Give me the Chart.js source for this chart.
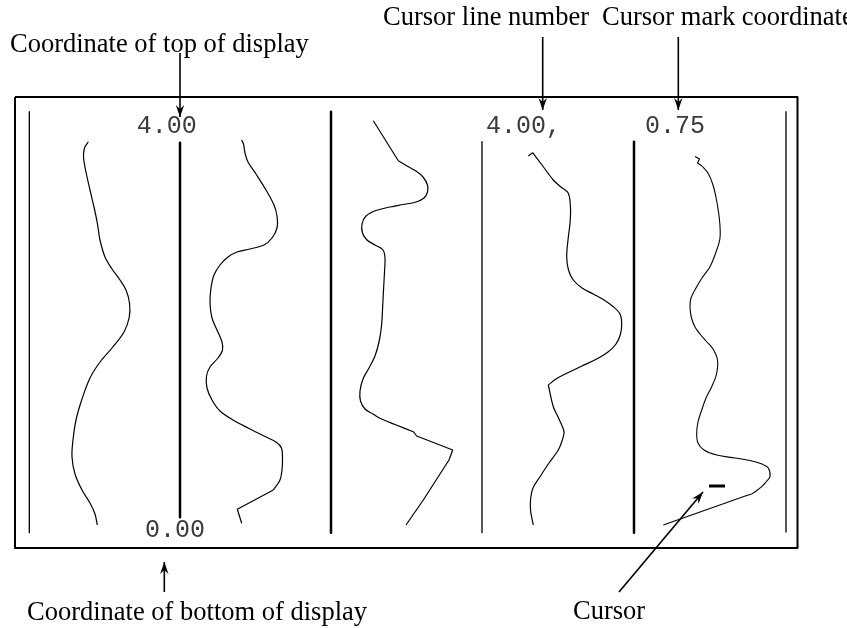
<!DOCTYPE html>
<html>
<head>
<meta charset="utf-8">
<script src="https://cdn.jsdelivr.net/npm/chart.js@4"></script>
<style>
  html, body { margin: 0; padding: 0; background: #fff; }
  canvas { display: block; }
</style>
</head>
<body>
<canvas id="display" width="847" height="628"></canvas>
<script>
// curve traces, [x, y] (y grows downward)
const trace1 = [[88.3,141.7],[84.5,148],[83.5,157],[86,172],[90,190],[94,207],[97.3,223],[100,240],[105,257],[112,269],[120,280],[126,290],[129.5,303],[129.3,317],[124,332],[112,348],[100,362],[90,378],[82,399],[76,420],[73,440],[72,457],[75,474],[82,490],[90,503],[95,514],[97.3,525]];
const trace2 = [[241.5,140],[243.5,144],[245,153],[248,162],[256,174],[266,190],[274,205],[277,216],[277,228],[272,238],[264,245],[250,249],[237,252],[228,257],[220,265],[214,275],[211,288],[210,303],[212,318],[217,330],[222,342],[222.5,350],[218,358],[210,367],[206.5,376],[207,388],[212,400],[220,411],[233,420],[248,428],[264,436],[276,442],[281.5,448],[282.5,458],[282,470],[280,480],[273.3,490]];
const trace2Tail = [[273.3,490],[237.3,509.3],[241.7,523.3]];
const trace3Head = [[373.3,120.7],[398.3,160.7]];
const trace3 = [[398.3,160.7],[407,166],[416,171],[423,177],[427.5,185],[427.5,192],[424,198],[416,202],[403,204.5],[390,207],[376,210.5],[366,216],[362,224],[362.5,233],[367,240],[375,245],[383,250],[385,258],[384.5,272],[383.5,290],[382.5,310],[381.5,326],[379,342],[375,356],[369,368],[363,379],[360,391],[360.5,401],[365,409],[373,414],[380,418.3],[395,424.5],[413.3,431.7]];
const trace3Tail = [[413.3,431.7],[416.7,436],[452.7,450],[449,460],[423.3,500],[406,525]];
const trace4Head = [[528.3,156],[532.7,152.7]];
const trace4 = [[532.7,152.7],[542,165],[553.3,180],[561,187],[568.3,193.3],[570.5,208],[570,223.3],[568,240],[566.7,256.7],[568.5,270],[573.3,280],[582,288],[593.3,294],[604,300],[613.3,306.7],[620,314],[621.7,323.3],[620.5,334],[616,344],[608,352],[596.7,359],[582,366],[566.7,373.3],[556,379],[548.3,385]];
const trace4Tail = [[548.3,385],[553.3,406.7],[559,419],[564,431.7],[562,441],[558.3,450],[549,463],[540,476.7],[533,488],[530.7,498],[530.5,510],[533.3,525]];
const trace5Head = [[695,156.5],[699.5,159],[697.5,163],[702,166]];
const trace5 = [[702,166],[708,173],[713,185],[716.5,200],[719.5,220],[720,238],[716,252],[710,266.7],[702,278],[696,288],[691,298],[690,307],[691.5,318],[695,327],[700,334],[706,341],[713,349],[717.5,360],[716.5,374],[711.7,386.7],[706,398],[701.7,410],[698,422],[696.7,433.3],[698,443],[704,450],[716.7,455],[735,458],[750,460.5],[762,464],[768.3,468],[770,476.7],[766,482],[761.7,486.7],[755.5,491.5],[751.7,494]];
const trace5Tail = [[751.7,494],[746.7,495.5],[663.3,525]];

// vertical rules: x, top, bottom, heavy?
const rules = [[29.3,111.7,532.7,false],[180,142.7,517.3,true],[331,111.7,532.7,true],[482,141.7,532.7,false],[634,141.7,532.7,true],[786,111.7,532,false]];
const frame = [[15,97],[797.5,97],[797.5,548],[15,548],[15,97]];
const cursorMark = [[709,486],[725,486]];

// readouts on the display
const topCoord = "4.00";
const bottomCoord = "0.00";
const cursorLine = "4.00,";
const cursorCoord = "0.75";

const serif = '26.5px "Liberation Serif", "Times New Roman", serif';
const mono = '25px "Liberation Mono", "Courier New", monospace';

const labels = [
    { text: "Coordinate of top of display", x: 10, y: 52, font: serif, color: "#000" },
    { text: "Cursor line number", x: 383, y: 25, font: serif, color: "#000" },
    { text: "Cursor mark coordinate", x: 602, y: 25, font: serif, color: "#000" },
    { text: "Coordinate of bottom of display", x: 27, y: 620, font: serif, color: "#000" },
    { text: "Cursor", x: 573, y: 619, font: serif, color: "#000" },
    { text: topCoord, x: 136.7, y: 132.5, font: mono, color: "#3a3a3a" },
    { text: cursorLine, x: 486, y: 132.5, font: mono, color: "#3a3a3a" },
    { text: cursorCoord, x: 645, y: 132.5, font: mono, color: "#3a3a3a" },
    { text: bottomCoord, x: 145, y: 536.5, font: mono, color: "#3a3a3a" },
];

// pointer arrows: from -> tip
const pointers = [
    [[180, 53], [180, 117]],
    [[542.7, 37], [542.7, 110]],
    [[678.3, 37], [678.3, 110]],
    [[164.3, 592], [164.3, 562]],
    [[619, 592], [703, 492]],
];

const pts = (arr) => arr.map(([x, y]) => ({ x, y }));

function line(arr, width, tension) {
    return {
        data: pts(arr),
        showLine: true,
        borderColor: "#000",
        borderWidth: width,
        tension: tension,
        pointRadius: 0,
        fill: false,
        borderCapStyle: "butt",
        borderJoinStyle: "round",
    };
}

const datasets = [
    line(frame, 2, 0),
    ...rules.map(([x, top, bottom, heavy]) => line([[x, top], [x, bottom]], heavy ? 2.5 : 1.3, 0)),
    line(trace1, 1.2, 0.35),
    line(trace2, 1.2, 0.35),
    line(trace2Tail, 1.2, 0),
    line(trace3Head, 1.2, 0),
    line(trace3, 1.2, 0.35),
    line(trace3Tail, 1.2, 0),
    line(trace4Head, 1.2, 0),
    line(trace4, 1.2, 0.35),
    line(trace4Tail, 1.2, 0.3),
    line(trace5Head, 1.1, 0),
    line(trace5, 1.1, 0.35),
    line(trace5Tail, 1.1, 0),
    line(cursorMark, 3, 0),
];

const annotate = {
    id: "annotate",
    afterDatasetsDraw(chart) {
        const { ctx } = chart;
        const sx = chart.scales.x, sy = chart.scales.y;
        ctx.save();
        ctx.strokeStyle = "#000";
        ctx.fillStyle = "#000";
        pointers.forEach(([from, to]) => {
            const x0 = sx.getPixelForValue(from[0]), y0 = sy.getPixelForValue(from[1]);
            const x1 = sx.getPixelForValue(to[0]), y1 = sy.getPixelForValue(to[1]);
            ctx.lineWidth = 1.6;
            ctx.beginPath();
            ctx.moveTo(x0, y0);
            ctx.lineTo(x1, y1);
            ctx.stroke();
            const a = Math.atan2(y1 - y0, x1 - x0);
            const len = 12, half = 4.2, notch = 8;
            ctx.beginPath();
            ctx.moveTo(x1, y1);
            ctx.lineTo(x1 - len * Math.cos(a) + half * Math.sin(a), y1 - len * Math.sin(a) - half * Math.cos(a));
            ctx.lineTo(x1 - notch * Math.cos(a), y1 - notch * Math.sin(a));
            ctx.lineTo(x1 - len * Math.cos(a) - half * Math.sin(a), y1 - len * Math.sin(a) + half * Math.cos(a));
            ctx.closePath();
            ctx.fill();
        });
        ctx.textBaseline = "alphabetic";
        ctx.textAlign = "left";
        labels.forEach((l) => {
            ctx.font = l.font;
            ctx.fillStyle = l.color;
            ctx.fillText(l.text, sx.getPixelForValue(l.x), sy.getPixelForValue(l.y));
        });
        ctx.restore();
    },
};

new Chart(document.getElementById("display").getContext("2d"), {
    type: "scatter",
    data: { datasets },
    options: {
        responsive: false,
        animation: false,
        devicePixelRatio: 1,
        layout: { padding: 0 },
        plugins: { legend: { display: false }, tooltip: { enabled: false } },
        scales: {
            x: { type: "linear", min: 0, max: 847, display: false },
            y: { type: "linear", min: 0, max: 628, reverse: true, display: false },
        },
    },
    plugins: [annotate],
});
</script>
</body>
</html>
